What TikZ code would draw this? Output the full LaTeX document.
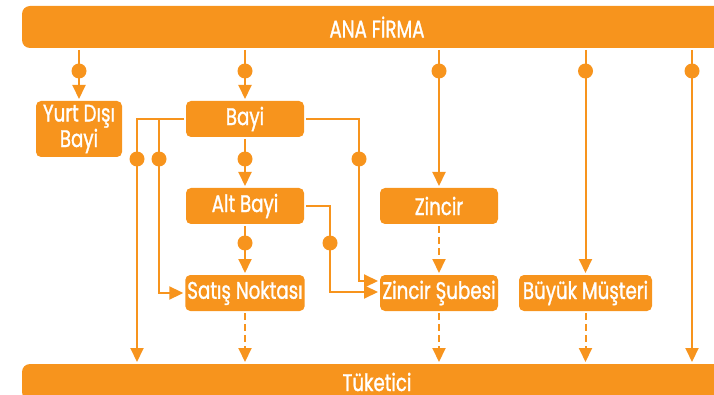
\documentclass[tikz,border=0pt]{standalone}
\usepackage{fontspec}
\setmainfont[FakeStretch=0.76, FakeBold=1.2]{Poppins}
\usetikzlibrary{arrows.meta,positioning}
\definecolor{firma}{HTML}{F7941D}

\begin{document}
\begin{tikzpicture}[
    x=1pt, y=-1pt,
    node distance=47pt,
    box/.style={rectangle, fill=firma, text=white, rounded corners=5pt, minimum width=118pt, minimum height=36pt, inner sep=2pt, outer sep=2pt, font=\fontsize{24pt}{22pt}\selectfont},
    bar/.style={box, minimum width=710pt, rounded corners=8pt},
    line/.style={draw=firma, line width=2pt, -{Triangle[width=13pt,length=14pt]}},
    dashline/.style={line, dash pattern=on 7pt off 4pt},
    dot/.style={circle, fill=firma, inner sep=0pt, minimum size=15pt}
]
\useasboundingbox (0,0) rectangle (714,395);

% Ana firma
\node [bar, minimum height=42pt] (ana) at (377,27) {ANA FİRMA};

% Yurt disi bayi
\node [box, minimum width=86pt, minimum height=56pt, align=center] (yurt) at (79,129) {Yurt Dışı\\Bayi};

% Bayi
\node [box] (bayi) at (245,119) {Bayi};

% Alt bayi
\node [box, below=of bayi] (altbayi) {Alt Bayi};

% Zincir
\node [box, right=72pt of altbayi] (zincir) {Zincir};

% Satis noktasi
\node [box, below=of altbayi] (satis) {Satış Noktası};

% Zincir subesi
\node [box, below=of zincir] (sube) {Zincir Şubesi};

% Buyuk musteri
\node [box, right=17pt of sube, minimum width=133pt] (buyuk) {Büyük Müşteri};

% Tuketici
\node [bar] (tuketici) at (377,382) {Tüketici};

\coordinate (kenar) at (692,0);

% Connections
\draw [line] (ana.south -| yurt) -- ++(0,21) node[dot]{} -- (yurt.north);
\draw [line] (ana.south -| bayi) -- ++(0,21) node[dot]{} -- (bayi.north);
\draw [line] (ana.south -| zincir) -- ++(0,21) node[dot]{} -- (zincir.north);
\draw [line] (ana.south -| buyuk) -- ++(0,21) node[dot]{} -- (buyuk.north);
\draw [line] (ana.south -| kenar) -- ++(0,21) node[dot]{} -- (tuketici.north -| kenar);
\draw [line] (bayi.south) -- ++(0,20) node[dot]{} -- (altbayi.north);
\draw [line] (altbayi.south) -- ++(0,17) node[dot]{} -- (satis.north);
\draw [line] (bayi.west) -- ++(-47,0) coordinate (c1) -- ++(0,40) node[dot]{} -- (c1 |- tuketici.north);
\draw [line] (bayi.west) -- ++(-25,0) -- ++(0,40) node[dot]{} |- (satis.west);
\draw [line] (bayi.east) -- ++(53,0) -- ++(0,40) node[dot]{} |- ([yshift=12pt]sube.west);
\draw [line] (altbayi.east) -- ++(24,0) -- ++(0,37) node[dot]{} |- ([yshift=1pt]sube.west);
\draw [dashline] (zincir) -- (sube);
\draw [dashline] (satis) -- (satis |- tuketici.north);
\draw [dashline] (sube) -- (sube |- tuketici.north);
\draw [dashline] (buyuk) -- (buyuk |- tuketici.north);

\end{tikzpicture}
\end{document}
